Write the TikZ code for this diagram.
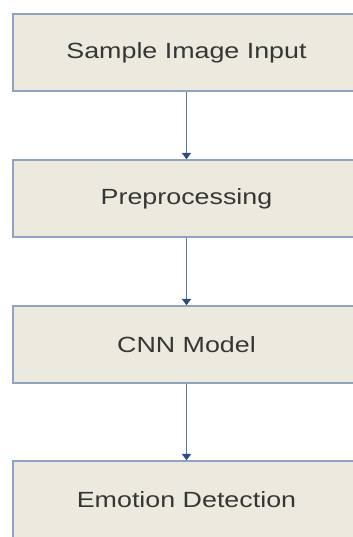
\documentclass[tikz,border=0pt]{standalone}
\usepackage{fontspec}
\setmainfont{Liberation Sans}[FakeStretch=1.22]
\usetikzlibrary{arrows.meta}
\definecolor{boxfill}{HTML}{ECEADF}
\definecolor{boxline}{HTML}{8FA3C2}
\definecolor{flowline}{HTML}{5A78AA}
\definecolor{flowtip}{HTML}{2B4C86}
\definecolor{labeltxt}{HTML}{363636}
\begin{document}
\begin{tikzpicture}[x=0.5pt,y=-0.5pt,
    stage/.style={draw=boxline, fill=boxfill, line width=0.8pt,
        minimum width=173.5pt, minimum height=38.5pt, inner sep=0pt,
        text=labeltxt, font=\fontsize{11}{13}\selectfont},
    flow/.style={draw=flowline, line width=0.7pt,
        -{Triangle[length=3.2pt,width=4.6pt,color=flowtip]}}]
    	\useasboundingbox (0,0) rectangle (353,537);
    	
    	% the four stages, top to bottom
    	\node[stage] (input) at (186.5,52.5){Sample Image Input};
    	\node[stage] (prep) at (186.5,198.5){Preprocessing};
    	\node[stage] (cnn) at (186.5,344.5){CNN Model};
    	\node[stage] (emotion) at (186.5,499.5){Emotion Detection};
    	
    	\draw[flow] (input) -- (prep);
    	\draw[flow] (prep) -- (cnn);
    	\draw[flow] (cnn) -- (emotion);
    \end{tikzpicture}
\end{document}
